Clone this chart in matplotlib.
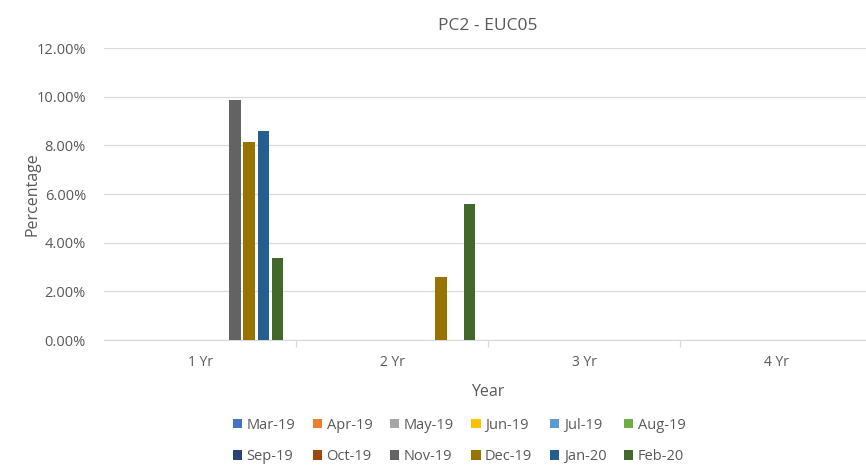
import numpy as np
import matplotlib.pyplot as plt
from matplotlib.ticker import FuncFormatter

categories = ['1 Yr', '2 Yr', '3 Yr', '4 Yr']
months = ['Mar-19', 'Apr-19', 'May-19', 'Jun-19', 'Jul-19', 'Aug-19',
          'Sep-19', 'Oct-19', 'Nov-19', 'Dec-19', 'Jan-20', 'Feb-20']
colors = ['#4472C4', '#ED7D31', '#A5A5A5', '#FFC000', '#5B9BD5', '#70AD47',
          '#264478', '#9E480E', '#636363', '#997300', '#255E91', '#43682B']

## värden per månad (andel), en lista per kategori 1..4 Yr
mar19 = [0, 0, 0, 0]
apr19 = [0, 0, 0, 0]
may19 = [0, 0, 0, 0]
jun19 = [0, 0, 0, 0]
jul19 = [0, 0, 0, 0]
aug19 = [0, 0, 0, 0]
sep19 = [0, 0, 0, 0]
oct19 = [0, 0, 0, 0]
nov19 = [0.0986, 0, 0, 0]
dec19 = [0.0812, 0.0257, 0, 0]
jan20 = [0.0860, 0, 0, 0]
feb20 = [0.0337, 0.0557, 0, 0]
series = [mar19, apr19, may19, jun19, jul19, aug19,
          sep19, oct19, nov19, dec19, jan20, feb20]

grey = '#595959'
plt.rcParams['font.family'] = ['Open Sans', 'DejaVu Sans']

fig = plt.figure(figsize=(8.66, 4.65), dpi=100)
ax = fig.add_axes([104 / 866, 1 - 340 / 465, 768 / 866, 292 / 465])

x = np.arange(len(categories))
slot = 0.073
width = 0.058
handles = []
for i, (name, vals) in enumerate(zip(months, series)):
    b = ax.bar(x + (i - 5.5) * slot, vals, width, color=colors[i], label=name, zorder=3)
    handles.append(b)

ax.set_xlim(-0.5, 3.5)
ax.set_ylim(0, 0.12)
ax.set_yticks(np.arange(0, 0.1201, 0.02))
ax.yaxis.set_major_formatter(FuncFormatter(lambda v, pos: f'{v * 100:.2f}%'))
ax.grid(axis='y', color='#D9D9D9', linewidth=0.9, zorder=0)
ax.set_xticks(x)
ax.set_xticklabels(categories)
ax.set_xticks([0.5, 1.5, 2.5], minor=True)
ax.tick_params(axis='x', which='major', length=0, pad=11, labelsize=10, labelcolor=grey)
ax.tick_params(axis='x', which='minor', length=5, color='#D9D9D9', width=0.9)
ax.tick_params(axis='y', length=0, pad=13, labelsize=10.5, labelcolor=grey)
for s in ['top', 'right', 'left']:
    ax.spines[s].set_visible(False)
ax.spines['bottom'].set_color('#D9D9D9')

ax.set_title('PC2 - EUC05', fontsize=12.5, color=grey, pad=13)
ax.set_xlabel('Year', fontsize=11.5, color=grey, labelpad=10)
ax.set_ylabel('Percentage', fontsize=11.5, color=grey, labelpad=-3)

order = [0, 6, 1, 7, 2, 8, 3, 9, 4, 10, 5, 11]
fig.legend([handles[i] for i in order], [months[i] for i in order],
           ncol=6, loc='lower center', bbox_to_anchor=(0.53, -0.027), frameon=False,
           fontsize=10.5, labelcolor=grey, handlelength=0.65, handleheight=0.65,
           handletextpad=0.3, columnspacing=1.2, labelspacing=1.15)

fig.savefig('out.png', dpi=100)
